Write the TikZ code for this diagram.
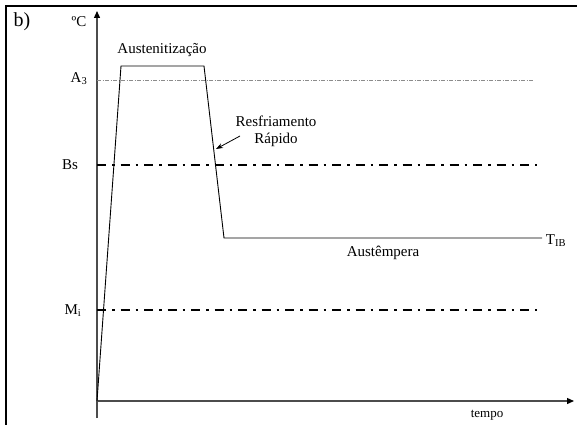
\documentclass[tikz,border=0pt]{standalone}
\usepackage{fontspec}
\setmainfont{Liberation Serif}
\usetikzlibrary{arrows.meta}
\begin{document}
\begin{tikzpicture}[x=1pt,y=-1pt,
  lbl/.style={inner sep=0pt,font=\fontsize{15}{17}\selectfont},
  axisline/.style={draw=black!70,line width=1.3pt},
  axistip/.style={-{Triangle[length=7pt,width=6pt,fill=black,color=black]}},
  curveline/.style={draw=black,line width=0.9pt},
  critline/.style={draw=black,line width=1.9pt,dash pattern=on 9pt off 6pt on 2.5pt off 6pt},
  aline/.style={draw=black!45,line width=1pt,dash pattern=on 4pt off 1.5pt on 1pt off 1.5pt}]
\useasboundingbox (0,0) rectangle (577,425);
% frame (top and left edges)
\draw[line width=1.2pt] (577,6) -- (6,6) -- (6,425);
% axes
\coordinate (O) at (97,401);
\coordinate (ytop) at (97,11);
\coordinate (xend) at (574,401);
\draw[axisline,axistip] (97,418) -- (ytop);
\draw[axisline,axistip] (O) -- (xend);
% critical temperature lines
\draw[aline] (97,81) -- (533,81);
\draw[critline] (97,165) -- (537,165);
\draw[critline] (97,310) -- (537,310);
% thermal cycle
\coordinate (p1) at (121,66);
\coordinate (p2) at (204,66);
\coordinate (p3) at (224,238);
\coordinate (p4) at (542,238);
\draw[curveline] (O) -- (p1) -- (p2) -- (p3) -- (p4);
% labels
\node[inner sep=0pt,font=\fontsize{20}{22}\selectfont] (b) at (22,22) {b)};
\node[lbl] (degC) at (79,22) {ºC};
\node[lbl] (aust) at (162,50) {Austenitização};
\node[lbl] (A3) at (79,79) {A\textsubscript{3}};
\node[lbl,align=center] (resf) at (276,131) {Resfriamento\\Rápido};
\node[lbl] (Bs) at (70,165) {Bs};
\node[lbl] (Mi) at (73,311) {M\textsubscript{i}};
\node[lbl] (tib) at (556,241) {T\textsubscript{IB}};
\node[lbl] (austemp) at (383,253) {Austêmpera};
\node[inner sep=0pt,font=\fontsize{13}{15}\selectfont] (tempo) at (487,415) {tempo};
\coordinate (tip) at (216,149);
\draw[line width=0.8pt,-{Stealth[length=7pt,width=5pt]}] (240,136) -- (tip);
\end{tikzpicture}
\end{document}
